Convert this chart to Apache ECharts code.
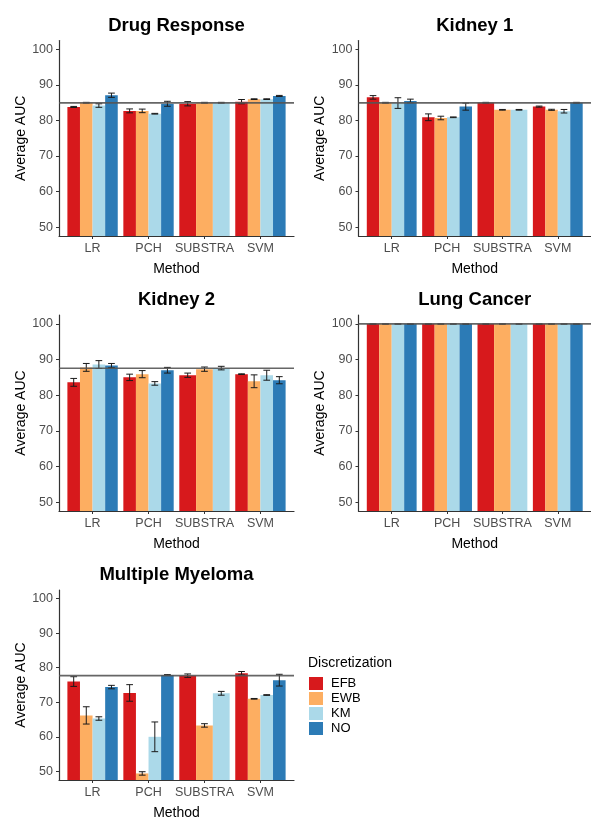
<!DOCTYPE html>
<html>
<head>
<meta charset="utf-8">
<script src="https://cdn.jsdelivr.net/npm/echarts@6/dist/echarts.min.js"></script>
<style>
  html, body { margin: 0; padding: 0; background: #fff; }
  #chart { width: 591px; height: 821px; }
</style>
</head>
<body>
<div id="chart"></div>
<script>
const methods = ['LR', 'PCH', 'SUBSTRA', 'SVM'];
const schemes = ['EFB', 'EWB', 'KM', 'NO'];
const colors = ['#D7191C', '#FDAE61', '#ABD9E9', '#2C7BB6'];
const yTicks = [50, 60, 70, 80, 90, 100];

// rows follow schemes, columns follow methods; null = method not run with that scheme
const drugMean = [
  [83.8, 82.7, 84.7, 85.3],
  [85.0, 82.7, 85.0, 86.0],
  [84.2, 81.9, 85.0, 86.0],
  [87.1, 84.7, null, 86.9]
];
const drugErr = [
  [0.15, 0.55, 0.6, 0.6],
  [0.1, 0.5, 0.1, 0.1],
  [0.5, 0.1, 0.1, 0.1],
  [0.6, 0.7, null, 0.15]
];
const kidney1Mean = [
  [86.5, 80.9, 85.0, 83.9],
  [85.0, 80.7, 83.0, 83.0],
  [84.9, 80.9, 83.0, 82.6],
  [85.5, 83.9, null, 85.0]
];
const kidney1Err = [
  [0.5, 0.95, 0.1, 0.15],
  [0.1, 0.5, 0.1, 0.15],
  [1.5, 0.1, 0.1, 0.5],
  [0.5, 1.0, null, 0.1]
];
const kidney2Mean = [
  [83.6, 85.0, 85.6, 85.9],
  [87.8, 85.9, 87.3, 83.9],
  [88.6, 83.3, 87.6, 85.6],
  [88.3, 87.0, null, 84.2]
];
const kidney2Err = [
  [1.1, 0.9, 0.6, 0.1],
  [1.1, 1.0, 0.6, 1.8],
  [1.1, 0.5, 0.5, 1.4],
  [0.6, 0.8, null, 1.0]
];
const lungMean = [
  [100, 100, 100, 100],
  [100, 100, 100, 100],
  [100, 100, 100, 100],
  [100, 100, null, 100]
];
const lungErr = [
  [0.05, 0.05, 0.05, 0.05],
  [0.05, 0.05, 0.05, 0.05],
  [0.05, 0.05, 0.05, 0.05],
  [0.05, 0.05, null, 0.05]
];
const myelomaMean = [
  [76.0, 72.7, 77.7, 78.4],
  [66.2, 49.4, 63.3, 71.0],
  [65.3, 60.0, 72.6, 72.1],
  [74.4, 77.9, null, 76.4]
];
const myelomaErr = [
  [1.4, 2.4, 0.5, 0.5],
  [2.5, 0.5, 0.5, 0.1],
  [0.5, 4.3, 0.55, 0.1],
  [0.5, 0.1, null, 1.7]
];
const panelTitles = ['Drug Response', 'Kidney 1', 'Kidney 2', 'Lung Cancer', 'Multiple Myeloma'];
const baselines = [84.95, 84.95, 87.55, 100, 77.7];

const panels = [
  { means: drugMean, errs: drugErr, grid: { left: 59, top: 40.5, width: 235, height: 195.5 } },
  { means: kidney1Mean, errs: kidney1Err, grid: { left: 358.5, top: 40.5, width: 232.5, height: 195.5 } },
  { means: kidney2Mean, errs: kidney2Err, grid: { left: 59, top: 315, width: 235, height: 196 } },
  { means: lungMean, errs: lungErr, grid: { left: 358.5, top: 315, width: 232.5, height: 196 } },
  { means: myelomaMean, errs: myelomaErr, grid: { left: 59, top: 590, width: 235, height: 196 } }
];

const FONT = 'Liberation Sans, Arial, sans-serif';
const Y_MIN = 47.5, Y_MAX = 102.5;

// ggplot style dodge: bars of one method share 0.9 of the slot
const makeRender = (means, s) => (params, api) => {
  const x = api.value(0);
  const ci = x - 1;
  const present = schemes.map((_, k) => k).filter(k => means[k][ci] != null);
  const w = 0.9 / present.length;
  const xl = x - 0.45 + present.indexOf(s) * w;
  const mean = api.value(1), err = api.value(2);
  const pBase = api.coord([xl, Y_MIN]);
  const pTop = api.coord([xl + w, mean]);
  const xc = api.coord([xl + w / 2, mean])[0];
  const capHalf = (api.coord([0.06, mean])[0] - api.coord([0, mean])[0]);
  const yLo = api.coord([xl, mean - err])[1];
  const yHi = api.coord([xl, mean + err])[1];
  const errStyle = { stroke: '#1a1a1a', lineWidth: 1 };
  return {
    type: 'group',
    children: [
      {
        type: 'rect',
        shape: { x: pBase[0], y: pTop[1], width: pTop[0] - pBase[0], height: pBase[1] - pTop[1] },
        style: { fill: colors[s] }
      },
      { type: 'line', shape: { x1: xc, y1: yLo, x2: xc, y2: yHi }, style: errStyle, z2: 10 },
      { type: 'line', shape: { x1: xc - capHalf, y1: yLo, x2: xc + capHalf, y2: yLo }, style: errStyle, z2: 10 },
      { type: 'line', shape: { x1: xc - capHalf, y1: yHi, x2: xc + capHalf, y2: yHi }, style: errStyle, z2: 10 }
    ]
  };
};

const grids = [], xAxes = [], yAxes = [], series = [], titles = [];
panels.forEach((p, i) => {
  grids.push(p.grid);
  titles.push({
    text: panelTitles[i],
    left: p.grid.left + p.grid.width / 2,
    top: p.grid.top - 24.5,
    padding: 0,
    textAlign: 'center',
    textStyle: { fontFamily: FONT, fontSize: 18.5, fontWeight: 'bold', color: '#000' }
  });
  xAxes.push({
    type: 'value', gridIndex: i, min: 0.4, max: 4.6,
    name: 'Method', nameLocation: 'middle', nameGap: 26,
    nameTextStyle: { fontFamily: FONT, fontSize: 14, color: '#000' },
    axisLine: { show: true, onZero: false, lineStyle: { color: '#333', width: 1.2 } },
    axisTick: { show: true, length: 3, customValues: [1, 2, 3, 4], lineStyle: { color: '#333' } },
    axisLabel: {
      customValues: [1, 2, 3, 4], margin: 6,
      formatter: v => methods[Math.round(v) - 1],
      fontFamily: FONT, fontSize: 12.5, color: '#4d4d4d'
    },
    splitLine: { show: false }
  });
  yAxes.push({
    type: 'value', gridIndex: i, min: Y_MIN, max: Y_MAX,
    name: 'Average AUC', nameLocation: 'middle', nameGap: 31, nameRotate: 90,
    nameTextStyle: { fontFamily: FONT, fontSize: 14, color: '#000' },
    axisLine: { show: true, onZero: false, lineStyle: { color: '#333', width: 1.2 } },
    axisTick: { show: true, length: 3, customValues: yTicks, lineStyle: { color: '#333' } },
    axisLabel: { customValues: yTicks, margin: 6, fontFamily: FONT, fontSize: 12.5, color: '#4d4d4d' },
    splitLine: { show: false }
  });
  schemes.forEach((name, s) => {
    const data = [];
    methods.forEach((m, ci) => {
      if (p.means[s][ci] != null) data.push([ci + 1, p.means[s][ci], p.errs[s][ci]]);
    });
    series.push({
      type: 'custom', name: name, xAxisIndex: i, yAxisIndex: i,
      itemStyle: { color: colors[s] },
      renderItem: makeRender(p.means, s),
      encode: { x: 0, y: 1 },
      data: data, clip: true, silent: true
    });
  });
  series.push({
    type: 'line', xAxisIndex: i, yAxisIndex: i, silent: true,
    symbol: 'none', z: 5,
    lineStyle: { color: '#555', width: 1.6, opacity: 0.9 },
    data: [[0.4, baselines[i]], [4.6, baselines[i]]]
  });
});

titles.push({
  text: 'Discretization', left: 303, top: 651,
  textStyle: { fontFamily: FONT, fontSize: 14, fontWeight: 'normal', color: '#000' }
});

const chart = echarts.init(document.getElementById('chart'), null, { renderer: 'canvas' });
chart.setOption({
  animation: false,
  title: titles,
  grid: grids,
  xAxis: xAxes,
  yAxis: yAxes,
  legend: {
    data: schemes.map((n, s) => ({ name: n, icon: 'rect', itemStyle: { color: colors[s] } })),
    orient: 'vertical', left: 304, top: 672,
    itemWidth: 14, itemHeight: 13, itemGap: 2,
    selectedMode: false,
    textStyle: { fontFamily: FONT, fontSize: 13, color: '#000', padding: [0, 0, 0, 3] }
  },
  series: series
});
</script>
</body>
</html>
